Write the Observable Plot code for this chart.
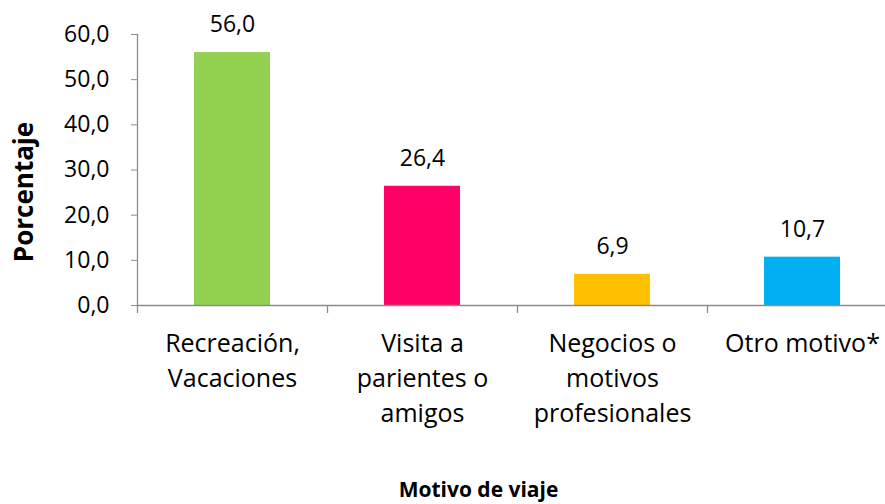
<!DOCTYPE html>
<html>
<head>
<meta charset="utf-8">
<script src="https://cdn.jsdelivr.net/npm/d3@7"></script>
<script src="https://cdn.jsdelivr.net/npm/@observablehq/plot@0.6"></script>
<style>
  html, body { margin: 0; padding: 0; background: #fff; }
  svg { overflow: visible; }
</style>
</head>
<body>
<div id="chart"></div>
<script>
const categories = ["Recreación,\nVacaciones", "Visita a\nparientes o\namigos", "Negocios o\nmotivos\nprofesionales", "Otro motivo*"];
const values = [56.0, 26.4, 6.9, 10.7];
const colors = ["#92D050", "#FF0066", "#FFC000", "#00B0F0"];
const yTicks = [0, 10, 20, 30, 40, 50, 60];
const yTitle = "Porcentaje";
const xTitle = "Motivo de viaje";

const data = categories.map((c, i) => ({cat: c, value: values[i], color: colors[i]}));
const fmt = d => d.toFixed(1).replace(".", ",");
const font = "'Open Sans', 'Noto Sans', sans-serif";
const axisGray = "#8c8c8c";

const chart = Plot.plot({
  width: 885,
  height: 504,
  marginTop: 34,
  marginBottom: 199,
  marginLeft: 137,
  marginRight: 0,
  style: {fontFamily: font, fontSize: "20px", color: "#000", background: "#fff"},
  x: {domain: categories, range: [137, 897], paddingInner: 0.6, paddingOuter: 0.3, align: 0.5},
  y: {domain: [0, 60]},
  color: {type: "identity"},
  marks: [
    Plot.barY(data, {x: "cat", y: "value", fill: "color"}),
    Plot.ruleY([0], {stroke: axisGray, strokeWidth: 1.3}),
    Plot.frame({anchor: "left", stroke: axisGray, strokeWidth: 1.3}),
    Plot.ruleX(categories, {x: d => d, y1: 0, y2: 0, insetBottom: -8, dx: -95, stroke: axisGray, strokeWidth: 1.3}),
    Plot.axisY({ticks: yTicks, tickFormat: fmt, tickSize: 6, tickPadding: 22, stroke: axisGray, fontSize: 23, label: null}),
    Plot.axisX({tickSize: 0, tickPadding: 22, lineHeight: 1.4, fontSize: 25, label: null}),
    Plot.text(data, {x: "cat", y: "value", text: d => fmt(d.value), dy: -28, fontSize: 23, fill: "#000"}),
    Plot.text([yTitle], {frameAnchor: "left", text: d => d, rotate: -90, textAnchor: "middle", dx: -113, dy: 22, fontWeight: "bold", fontSize: 26, fill: "#000"}),
    Plot.text([xTitle], {frameAnchor: "bottom", text: d => d, dx: -33, dy: 191, fontWeight: "bold", fontSize: 21, fill: "#000"})
  ]
});
document.getElementById("chart").append(chart);
</script>
</body>
</html>
